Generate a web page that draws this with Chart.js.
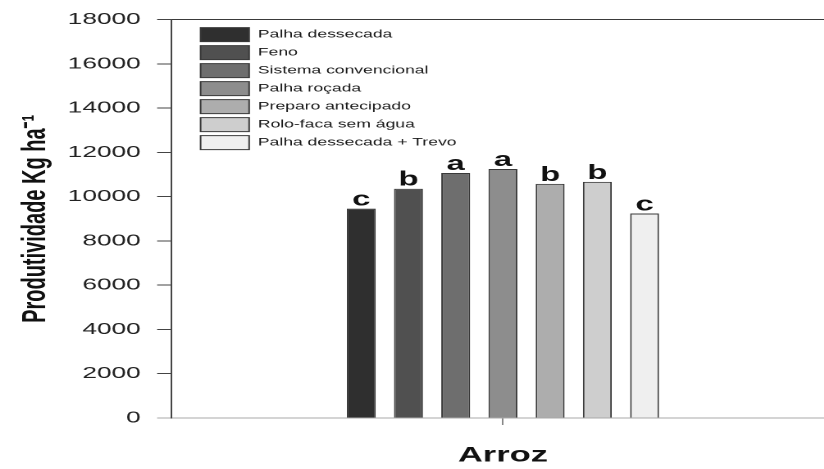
<!DOCTYPE html>
<html>
<head>
<meta charset="utf-8">
<script src="https://cdn.jsdelivr.net/npm/chart.js@4/dist/chart.umd.min.js"></script>
<style>
  html, body { margin: 0; padding: 0; background: #fff; overflow: hidden; width: 824px; height: 469px; }
  #wrap { position: absolute; left: 0; top: 0; width: 510px; height: 469px; transform: scaleX(1.64); transform-origin: 0 0; }
</style>
</head>
<body>
<div id="wrap"><canvas id="c"></canvas></div>
<script>
// Rice yield by soil management system
const categories = ['Arroz'];
const treatments = [
  'Palha dessecada',
  'Feno',
  'Sistema convencional',
  'Palha roçada',
  'Preparo antecipado',
  'Rolo-faca sem água',
  'Palha dessecada + Trevo'
];
const yields = [9460, 10360, 11070, 11250, 10580, 10670, 9240];
const groups = ['c', 'b', 'a', 'a', 'b', 'b', 'c'];
const fills = ['#2f2f2f', '#505050', '#6e6e6e', '#8d8d8d', '#adadad', '#cecece', '#efefef'];
const yTicks = [0, 2000, 4000, 6000, 8000, 10000, 12000, 14000, 16000, 18000];

const FONT = '"Liberation Sans", Arial, sans-serif';

const datasets = treatments.map((name, i) => ({
  label: name,
  data: [yields[i]],
  backgroundColor: fills[i],
  borderColor: '#3a3a3a',
  borderWidth: 1,
  barPercentage: 0.613,
  categoryPercentage: 0.498
}));

// Letters of the mean-comparison test above each bar
const groupLetters = {
  id: 'groupLetters',
  afterDatasetsDraw(chart) {
    const ctx = chart.ctx;
    ctx.save();
    ctx.font = 'bold 20px ' + FONT;
    ctx.fillStyle = '#111';
    ctx.textAlign = 'center';
    ctx.textBaseline = 'alphabetic';
    chart.data.datasets.forEach((ds, i) => {
      const bar = chart.getDatasetMeta(i).data[0];
      ctx.fillText(groups[i], bar.x, bar.y - 3);
    });
    ctx.restore();
  }
};

// Place the in-plot legend a little inside the frame's top-left corner
const legendInset = {
  id: 'legendInset',
  afterLayout(chart) {
    const lg = chart.legend;
    if (!lg) return;
    const area = chart.chartArea;
    const h = lg.bottom - lg.top;
    lg.left = area.left + 14;
    lg.top = area.top + 4;
    lg.bottom = lg.top + h;
  }
};

new Chart(document.getElementById('c'), {
  type: 'bar',
  data: { labels: categories, datasets },
  plugins: [groupLetters, legendInset],
  options: {
    responsive: true,
    maintainAspectRatio: false,
    devicePixelRatio: 2,
    animation: false,
    layout: { padding: { left: 0, top: 16, right: 1, bottom: 0 } },
    plugins: {
      legend: {
        position: 'chartArea',
        align: 'start',
        labels: {
          boxWidth: 29.6,
          boxHeight: 14,
          padding: 4,
          color: '#1a1a1a',
          font: { family: FONT, size: 10.7 }
        }
      },
      tooltip: { enabled: false }
    },
    scales: {
      x: {
        offset: true,
        afterFit(scale) { scale.height = 51; },
        grid: { offset: false, drawOnChartArea: false, tickLength: 7, color: '#888' },
        border: { display: true, color: '#a8a8a8', width: 1 },
        ticks: {
          padding: 18,
          color: '#111',
          font: { family: FONT, size: 21, weight: 'bold' }
        }
      },
      xTop: {
        type: 'category',
        position: 'top',
        labels: categories,
        afterFit(scale) { scale.height = 0; },
        grid: { display: false, drawTicks: false },
        ticks: { display: false },
        border: { display: true, color: '#3a3a3a', width: 1 }
      },
      y: {
        min: 0,
        max: 18000,
        afterBuildTicks(scale) { scale.ticks = yTicks.map(v => ({ value: v })); },
        afterFit(scale) { scale.width = 104.3; },
        grid: {
          drawOnChartArea: false,
          tickLength: 8.5,
          color: ctx => (ctx.index === 0 ? '#a8a8a8' : '#444')
        },
        border: { display: true, color: '#444', width: 1 },
        ticks: {
          padding: 10,
          color: '#222',
          callback: v => String(v),
          font: { family: FONT, size: 16 }
        },
        title: {
          display: true,
          text: 'Produtividade Kg ha⁻¹',
          color: '#111',
          padding: { top: 10, bottom: 0 },
          font: { family: FONT, size: 20, weight: 'bold' }
        }
      }
    }
  }
});
</script>
</body>
</html>
